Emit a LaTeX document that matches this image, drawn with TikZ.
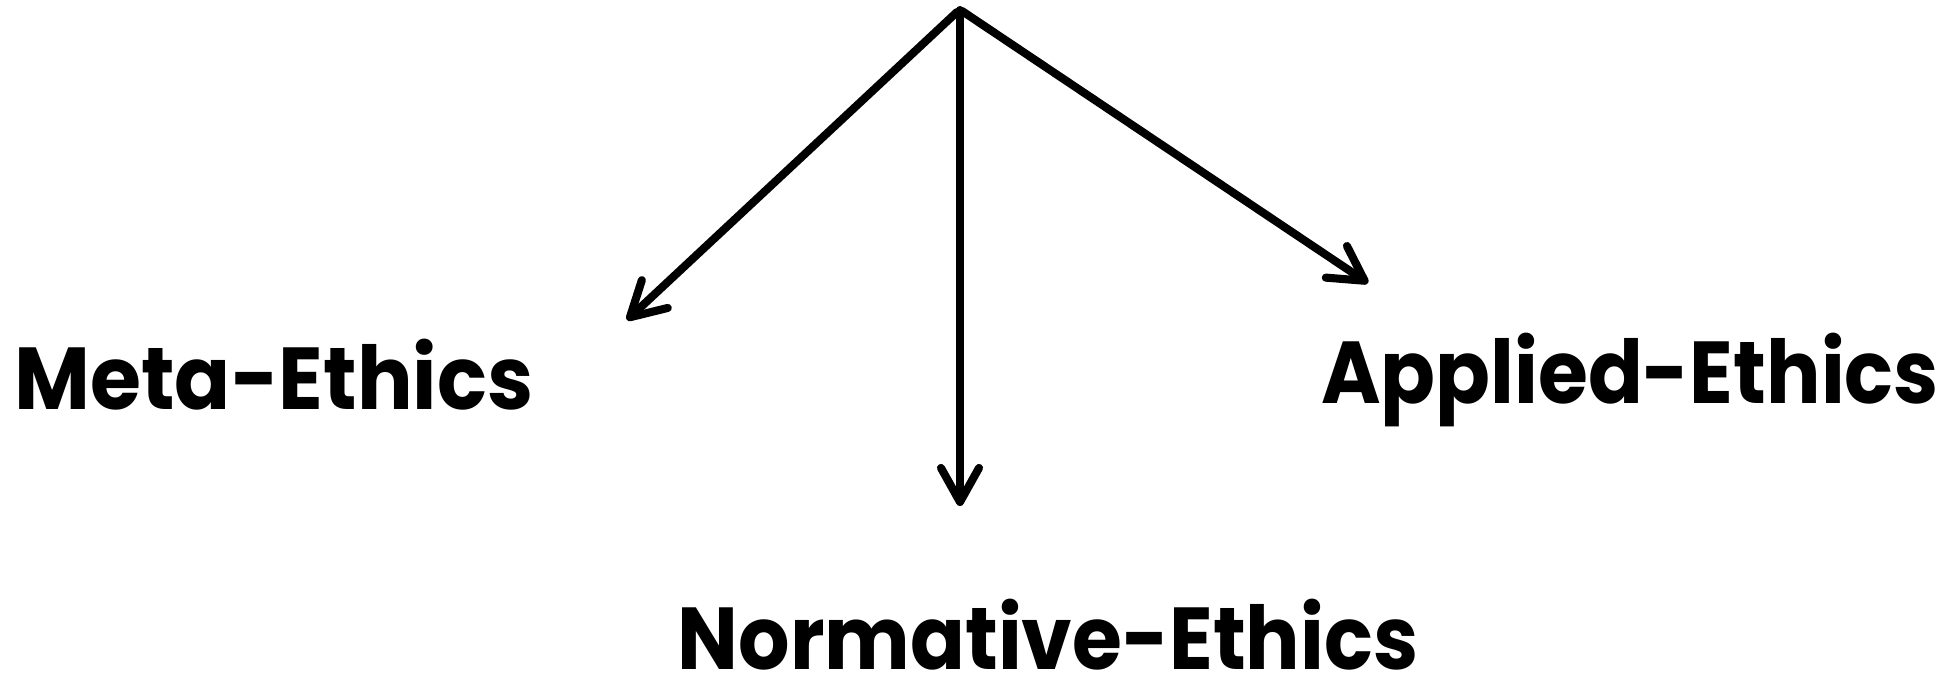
\documentclass[tikz,border=0pt]{standalone}
\usepackage{fontspec}
\setmainfont{Poppins}
\usetikzlibrary{arrows.meta}
\newcommand{\narrow}[2]{\scalebox{#1}[1]{#2}}
\begin{document}
\begin{tikzpicture}[x=0.01cm,y=-0.01cm,
  conn/.style={line width=2.3pt,line cap=round,-{Straight Barb[length=3.4mm,width=3.8mm,round]}},
  lbl/.style={font=\fontsize{25}{30}\selectfont\bfseries,inner sep=0pt}]
\useasboundingbox (0,0) rectangle (1959,678);
\coordinate (topL) at (957,12);
\coordinate (topM) at (960,10);
\coordinate (topR) at (962,11);
\coordinate (endL) at (627,320);
\coordinate (endM) at (960,506);
\coordinate (endR) at (1368,283);
\draw[conn] (topL) -- (endL);
\draw[conn] (topM) -- (endM);
\draw[conn] (topR) -- (endR);
\node[lbl] (meta) at (274,375) {\narrow{0.94}{Meta-Ethics}};
\node[lbl] (applied) at (1630,380) {\narrow{0.92}{Applied-Ethics}};
\node[lbl] (norm) at (1048,635) {\narrow{0.92}{Normative-Ethics}};
\end{tikzpicture}
\end{document}
